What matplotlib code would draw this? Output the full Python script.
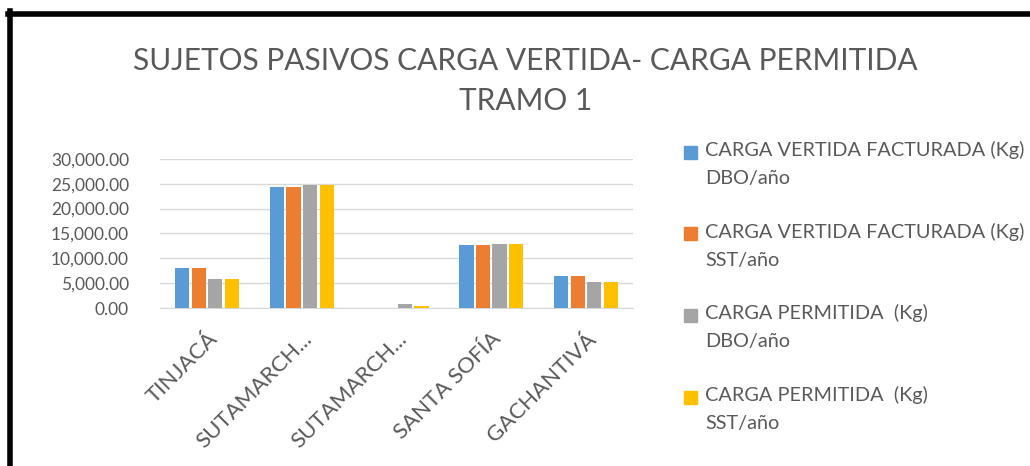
import numpy as np
import matplotlib
matplotlib.use("Agg")
import matplotlib.pyplot as plt
from matplotlib.patches import Rectangle
from matplotlib.lines import Line2D

categories = ["TINJACÁ", "SUTAMARCH...", "SUTAMARCH...", "SANTA SOFÍA", "GACHANTIVÁ"]
vertida_dbo = [8100, 24350, 0, 12680, 6450]
vertida_sst = [8100, 24350, 0, 12680, 6450]
permitida_dbo = [5850, 24750, 720, 12950, 5250]
permitida_sst = [5850, 24750, 450, 12950, 5250]

labels = ["CARGA VERTIDA FACTURADA (Kg)\nDBO/año",
          "CARGA VERTIDA FACTURADA (Kg)\nSST/año",
          "CARGA PERMITIDA  (Kg)\nDBO/año",
          "CARGA PERMITIDA  (Kg)\nSST/año"]
colors = ["#5B9BD5", "#ED7D31", "#A5A5A5", "#FFC000"]
series = [vertida_dbo, vertida_sst, permitida_dbo, permitida_sst]

txt = "#595959"
plt.rcParams["font.family"] = ["Lato", "DejaVu Sans"]

fig = plt.figure(figsize=(10.3, 4.66), dpi=100)
ax = fig.add_axes([0.155, 0.339, 0.46, 0.32])

x = np.arange(len(categories))
slot = 0.175
for i, (vals, c) in enumerate(zip(series, colors)):
    ax.bar(x + (i - 1.5) * slot, vals, 0.15, color=c, zorder=3)

ax.set_xlim(-0.5, len(categories) - 0.5)
ax.set_ylim(0, 30000)
ax.set_yticks(np.arange(0, 30001, 5000))
ax.set_yticklabels([f"{v:,.2f}" for v in np.arange(0, 30001, 5000)], fontsize=12.5, color=txt)
ax.set_xticks(x)
ax.set_xticklabels(categories, rotation=45, ha="right", rotation_mode="anchor",
                   fontsize=16, color=txt)
ax.tick_params(axis="y", length=0, pad=22)
ax.tick_params(axis="x", length=0, pad=15)
ax.grid(axis="y", color="#d9d9d9", linewidth=1, zorder=0)
for s in ["top", "right", "left"]:
    ax.spines[s].set_visible(False)
ax.spines["bottom"].set_color("#d9d9d9")

fig.text(0.51, 0.826, "SUJETOS PASIVOS CARGA VERTIDA- CARGA PERMITIDA\nTRAMO 1",
         ha="center", va="center", fontsize=21.5, color=txt, linespacing=1.5)

# legend drawn by hand so the square sits beside the first line
for i, (lab, c) in enumerate(zip(labels, colors)):
    ytop = 1 - (141 + i * 81.5) / 466
    fig.add_artist(Rectangle((684 / 1030, ytop - 18 / 466), 13 / 1030, 13 / 466,
                             transform=fig.transFigure, color=c))
    fig.text(705 / 1030, ytop, lab, ha="left", va="top", fontsize=14.3,
             color=txt, linespacing=1.8)

# black frame along top and left
fig.add_artist(Line2D([9.5 / 1030, 9.5 / 1030], [0, 1 - 11 / 466], transform=fig.transFigure,
                      color="black", linewidth=4))
fig.add_artist(Line2D([7.5 / 1030, 1], [1 - 13.5 / 466, 1 - 13.5 / 466], transform=fig.transFigure,
                      color="black", linewidth=4))

fig.savefig("out.png", dpi=100, facecolor="white")
